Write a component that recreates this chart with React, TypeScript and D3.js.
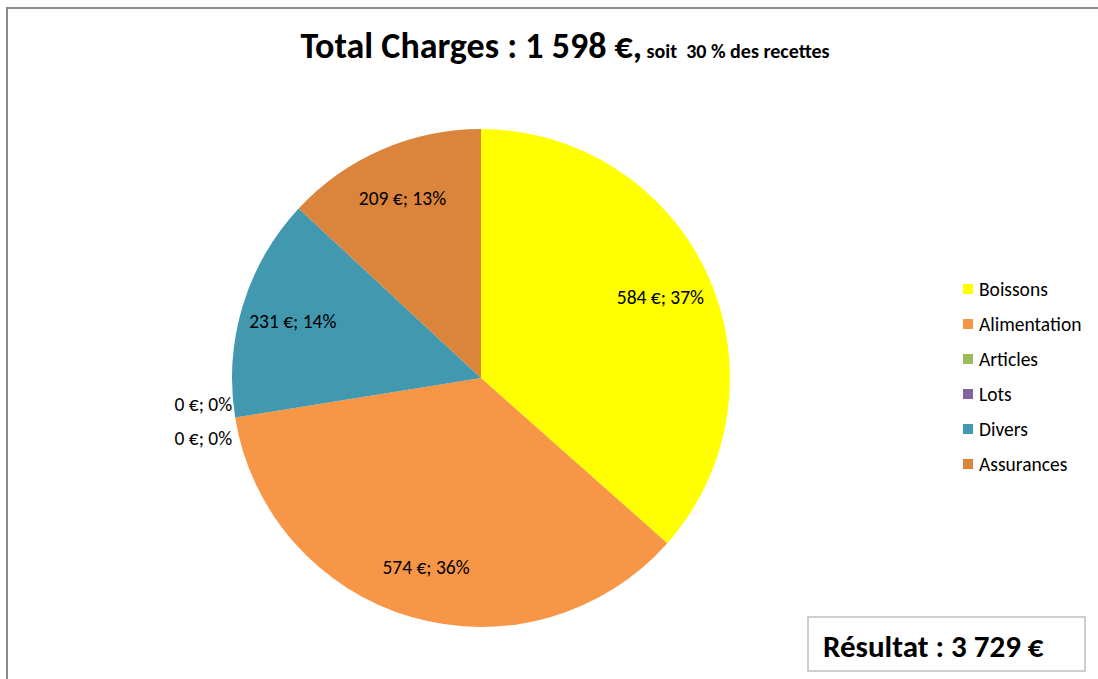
import React from "react";
import * as d3 from "d3";

const categories = ["Boissons", "Alimentation", "Articles", "Lots", "Divers", "Assurances"];
const values = [584, 574, 0, 0, 231, 209];
const colors = ["#FFFF00", "#F79646", "#9BBB59", "#8064A2", "#4198AF", "#DA843C"];
const totalCharges = 1598;
const recettesPct = 30;
const resultat = 3729;

const W = 1098;
const H = 679;
const FONT = "Carlito, Calibri, Lato, sans-serif";

const fmt = (n: number) => d3.format(",")(n).replace(/,/g, " ");

export default function App() {
  const cx = 481;
  const cy = 378;
  const r = 249;
  const total = d3.sum(values);
  const pie = d3.pie<number>().sort(null).value((d) => d)(values);
  const arc = d3.arc<d3.PieArcDatum<number>>().innerRadius(0).outerRadius(r);
  const labelArc = d3.arc<d3.PieArcDatum<number>>().innerRadius(0).outerRadius(r * 1.58);

  let zeroIdx = 0;
  const zeroCount = values.filter((v) => v === 0).length;

  return (
    <svg width={W} height={H} style={{ position: "fixed", left: 0, top: 0, background: "#fff" }} fontFamily={FONT}>
      <rect x={7} y={8} width={W + 10} height={H + 10} fill="#fff" stroke="#8C8C8C" strokeWidth={2} />
      <text x={565} y={58} textAnchor="middle" fontWeight="bold" fill="#000" style={{ whiteSpace: "pre" }}>
        <tspan fontSize={36}>{`Total Charges : ${fmt(totalCharges)} €,`}</tspan>
        <tspan fontSize={20}>{` soit \u00A0${recettesPct} % des recettes`}</tspan>
      </text>
      <g transform={`translate(${cx},${cy})`}>
        {pie.map((p, i) => (
          <path key={categories[i]} d={arc(p) || ""} fill={colors[i]} />
        ))}
        {pie.map((p, i) => {
          const pct = Math.round((values[i] / total) * 100);
          const label = `${fmt(values[i])} €; ${pct}%`;
          if (values[i] === 0) {
            const a = p.startAngle;
            const x = Math.sin(a) * r;
            const y = -Math.cos(a) * r;
            const k = zeroIdx++;
            const off = (k - (zeroCount - 1) / 2) * 34;
            return (
              <text key={"l" + i} x={x - 3} y={y + off + 11} textAnchor="end" fontSize={19.5} fill="#000">
                {label}
              </text>
            );
          }
          const [lx, ly] = labelArc.centroid(p);
          return (
            <text key={"l" + i} x={lx} y={ly + 7} textAnchor="middle" fontSize={19.5} fill="#000">
              {label}
            </text>
          );
        })}
      </g>
      <g>
        {categories.map((c, i) => (
          <g key={c} transform={`translate(963,${289 + i * 35})`}>
            <rect x={0} y={-5} width={10} height={10} fill={colors[i]} />
            <text x={16} y={6.5} fontSize={19.5} fill="#000">
              {c}
            </text>
          </g>
        ))}
      </g>
      <rect x={808} y={617} width={277} height={54} fill="#fff" stroke="#BFBFBF" strokeWidth={1.5} />
      <text x={823} y={657} fontSize={31} fontWeight="bold" fill="#000">
        {`Résultat : ${fmt(resultat)} €`}
      </text>
    </svg>
  );
}
